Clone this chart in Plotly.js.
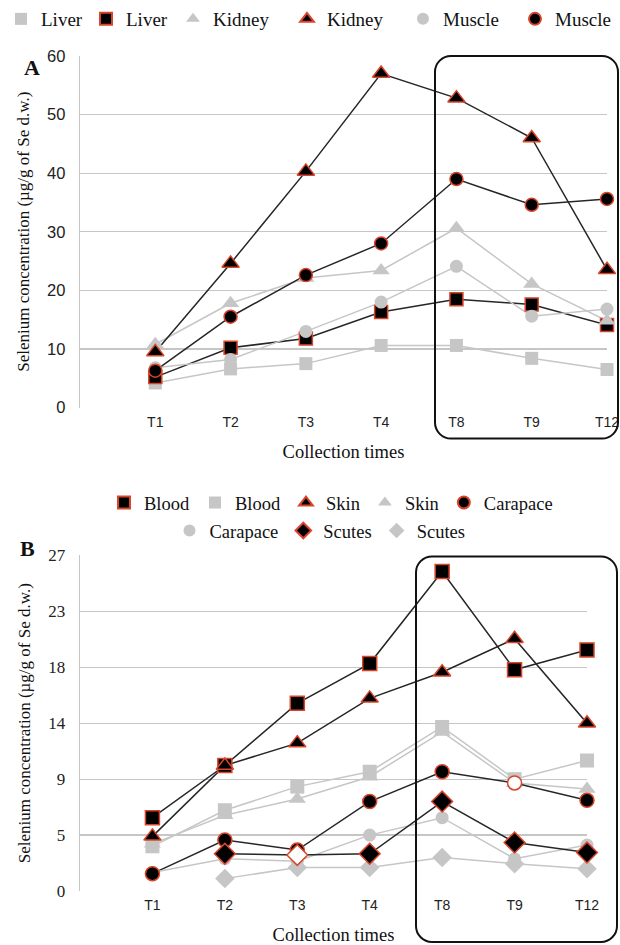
<!DOCTYPE html>
<html><head><meta charset="utf-8">
<script src="https://cdn.plot.ly/plotly-3.0.1.min.js"></script>
<style>html,body{margin:0;padding:0;background:#fff}</style>
</head><body><div id="chart" style="width:620px;height:945px"></div>
<script>
// ---- Data ----
const times = ['T1','T2','T3','T4','T8','T9','T12'];

// Panel A (µg/g of Se d.w.)
const liverGray   = [4.2, 6.6, 7.5, 10.6, 10.6, 8.4, 6.5];
const liverBlack  = [5.2, 10.2, 11.8, 16.3, 18.5, 17.6, 14.1];
const kidneyGray  = [10.8, 17.8, 22.1, 23.4, 30.6, 21.1, 14.8];
const kidneyBlack = [9.5, 24.6, 40.3, 57.0, 52.8, 46.0, 23.5];
const muscleGray  = [6.8, 8.2, 13.0, 18.0, 24.1, 15.6, 16.8];
const muscleBlack = [6.3, 15.5, 22.6, 28.0, 39.0, 34.6, 35.6];

// Panel B
const bloodBlack    = [5.9, 10.1, 15.1, 18.3, 25.7, 17.8, 19.4];
const bloodGray     = [3.6, 6.5, 8.4, 9.6, 13.2, 9.0, 10.5];
const skinBlack     = [4.4, 10.1, 11.9, 15.5, 17.6, 20.3, 13.5];
const skinGray      = [3.8, 6.1, 7.4, 9.2, 12.8, 8.7, 8.2];
const carapaceBlack = [1.4, 4.1, 3.3, 7.2, 9.6, 8.7, 7.3];
const carapaceGray  = [1.5, 2.6, 2.4, 4.5, 5.9, 2.6, 3.7];
const scutesBlack   = [null, 3.0, 2.9, 3.0, 7.2, 3.9, 3.1];
const scutesGray    = [null, 1.0, 1.9, 1.9, 2.7, 2.2, 1.8];

const yTicksB = [0, 4.5, 9, 13.5, 18, 22.5, 27];
const yTickTextB = ['0', '5', '9', '14', '18', '23', '27'];

// ---- Styles ----
const W = 620, H = 945;
const GRAY = '#c6c6c6', DARK = '#262626', RED = '#d8452a';
const serif = 'Liberation Serif, Times New Roman, serif';
const sans = 'Liberation Sans, Arial, sans-serif';

function lineTrace(y, dark, xa, ya) {
  return {x: times, y: y, xaxis: xa, yaxis: ya, mode: 'lines', showlegend: false, hoverinfo: 'skip',
    cliponaxis: false, line: {color: dark ? DARK : GRAY, width: 1.5}};
}
function markTrace(y, name, dark, symbol, size, xa, ya, legend, lw, colors) {
  const t = {x: times, y: y, xaxis: xa, yaxis: ya, mode: 'markers', name: name, legend: legend,
    cliponaxis: false,
    marker: {symbol: symbol, size: size,
      color: colors || (dark ? '#000' : GRAY),
      line: {color: dark ? RED : GRAY, width: dark ? 1.5 : 0}}};
  if (lw) t.legendwidth = lw;
  return t;
}

const traces = [];
// lines A
[[liverGray,0],[liverBlack,1],[kidneyGray,0],[kidneyBlack,1],[muscleGray,0],[muscleBlack,1]]
  .forEach(s => traces.push(lineTrace(s[0], s[1], 'x', 'y')));
// markers A (legend order)
traces.push(markTrace(liverGray,  'Liver',  0, 'square',   13, 'x', 'y', 'legend', 40));
traces.push(markTrace(liverBlack, 'Liver',  1, 'square',   13, 'x', 'y', 'legend', 42));
traces.push(markTrace(kidneyGray, 'Kidney', 0, 'triangle-up', 15, 'x', 'y', 'legend', 69));
traces.push(markTrace(kidneyBlack,'Kidney', 1, 'triangle-up', 15, 'x', 'y', 'legend', 71));
traces.push(markTrace(muscleGray, 'Muscle', 0, 'circle',   13, 'x', 'y', 'legend', 67));
traces.push(markTrace(muscleBlack,'Muscle', 1, 'circle',   13, 'x', 'y', 'legend', 60));

// lines B
[[bloodBlack,1],[bloodGray,0],[skinBlack,1],[skinGray,0],[carapaceBlack,1],[carapaceGray,0],[scutesBlack,1],[scutesGray,0]]
  .forEach(s => traces.push(lineTrace(s[0], s[1], 'x2', 'y2')));
// markers B
const carapaceBlackFill = ['#000','#000','#000','#000','#000','#fff','#000'];
const scutesBlackFill   = ['#000','#000','#fff','#000','#000','#000','#000'];
traces.push(markTrace(bloodGray,   'Blood',    0, 'square', 14, 'x2', 'y2', 'legend2'));
traces.push(markTrace(skinGray,    'Skin',     0, 'triangle-up', 15, 'x2', 'y2', 'legend2'));
traces.push(markTrace(carapaceGray,'Carapace', 0, 'circle', 13, 'x2', 'y2', 'legend3'));
traces.push(markTrace(scutesGray,  'Scutes',   0, 'diamond', 15, 'x2', 'y2', 'legend3'));
traces.push(markTrace(bloodBlack,  'Blood',    1, 'square', 14, 'x2', 'y2', 'legend2'));
traces.push(markTrace(skinBlack,   'Skin',     1, 'triangle-up', 15, 'x2', 'y2', 'legend2'));
traces.push(markTrace(carapaceBlack,'Carapace',1, 'circle', 14, 'x2', 'y2', 'legend2', 0, carapaceBlackFill));
traces.push(markTrace(scutesBlack, 'Scutes',   1, 'diamond', 16, 'x2', 'y2', 'legend3', 0, scutesBlackFill));
// legend ranks for panel B
const rankB = {'legend2': ['Blood1','Blood0','Skin1','Skin0','Carapace1'], 'legend3': ['Carapace0','Scutes1','Scutes0']};
traces.forEach(t => {
  if (t.mode !== 'markers') return;
  const dark = t.marker.color !== GRAY ? 1 : 0;
  if (rankB[t.legend]) t.legendrank = rankB[t.legend].indexOf(t.name + dark) + 1;
});

// ---- Geometry helpers (pixels -> paper) ----
const px = x => x / W, py = y => 1 - y / H;
function roundRect(x0, y0, x1, y1, r) {
  const f = (x, y) => px(x).toFixed(5) + ',' + py(y).toFixed(5);
  const k = r * 0.55;
  return 'M' + f(x0 + r, y0) + ' L' + f(x1 - r, y0) +
    ' C' + f(x1 - r + k, y0) + ' ' + f(x1, y0 + r - k) + ' ' + f(x1, y0 + r) +
    ' L' + f(x1, y1 - r) +
    ' C' + f(x1, y1 - r + k) + ' ' + f(x1 - r + k, y1) + ' ' + f(x1 - r, y1) +
    ' L' + f(x0 + r, y1) +
    ' C' + f(x0 + r - k, y1) + ' ' + f(x0, y1 - r + k) + ' ' + f(x0, y1 - r) +
    ' L' + f(x0, y0 + r) +
    ' C' + f(x0, y0 + r - k) + ' ' + f(x0 + r - k, y0) + ' ' + f(x0 + r, y0) + ' Z';
}

const xCommon = {type: 'category', categoryorder: 'array', categoryarray: times,
  showgrid: false, zeroline: false, showline: false, ticks: '', ticklabelstandoff: 4,
  tickfont: {family: sans, size: 14, color: '#222'}, fixedrange: true};
const yTitle = {text: 'Selenium concentration (µg/g of Se d.w.)', font: {family: serif, size: 17, color: '#111'}, standoff: 13};
const legCommon = {orientation: 'h', bgcolor: 'rgba(0,0,0,0)', borderwidth: 0,
  font: {family: serif, size: 18.5, color: '#111'}, itemsizing: 'constant', traceorder: 'normal',
  itemclick: false};

const layout = {
  width: W, height: H, margin: {l: 0, r: 0, t: 0, b: 0},
  paper_bgcolor: '#fff', plot_bgcolor: '#fff',
  xaxis: Object.assign({}, xCommon, {domain: [px(80), px(607)], range: [-1, 6.0], anchor: 'y',
    title: {text: 'Collection times', font: {family: serif, size: 18.5, color: '#111'}, standoff: 16}}),
  yaxis: {domain: [py(407), py(55)], range: [0, 60], dtick: 10, anchor: 'x',
    gridcolor: GRAY, gridwidth: 1.3, showline: true, linecolor: GRAY, linewidth: 1.3,
    zeroline: false, ticks: '', ticklabelstandoff: 10,
    tickfont: {family: sans, size: 16.5, color: '#222'},
    title: yTitle},
  xaxis2: Object.assign({}, xCommon, {domain: [px(80), px(587)], range: [-1, 6.0], anchor: 'y2',
    title: {text: 'Collection times', font: {family: serif, size: 18.5, color: '#111'}, standoff: 24}}),
  yaxis2: {domain: [py(891), py(555)], range: [0, 27], tickvals: yTicksB, ticktext: yTickTextB, anchor: 'x2',
    gridcolor: GRAY, gridwidth: 1.3, showline: true, linecolor: GRAY, linewidth: 1.3,
    zeroline: false, ticks: '', ticklabelstandoff: 10,
    tickfont: {family: serif, size: 17, color: '#222'},
    title: yTitle},
  legend: Object.assign({}, legCommon, {x: px(2), xanchor: 'left', y: py(18), yanchor: 'middle',
    font: {family: serif, size: 19, color: '#111'}}),
  legend2: Object.assign({}, legCommon, {x: px(331), xanchor: 'center', y: py(503), yanchor: 'middle'}),
  legend3: Object.assign({}, legCommon, {x: px(320), xanchor: 'center', y: py(531), yanchor: 'middle'}),
  annotations: [
    {text: '<b>A</b>', xref: 'paper', yref: 'paper', x: px(22), y: py(52), showarrow: false,
      font: {family: serif, size: 22, color: '#111'}},
    {text: '<b>B</b>', xref: 'paper', yref: 'paper', x: px(18), y: py(548), showarrow: false,
      font: {family: serif, size: 22, color: '#111'}}
  ],
  shapes: [
    {type: 'path', xref: 'paper', yref: 'paper', path: roundRect(435, 55, 618, 438, 16),
      line: {color: '#111', width: 2}},
    {type: 'path', xref: 'paper', yref: 'paper', path: roundRect(416, 556, 617, 942, 16),
      line: {color: '#111', width: 2}}
  ]
};

Plotly.newPlot('chart', traces, layout, {displayModeBar: false, staticPlot: true});
</script>
</body></html>
